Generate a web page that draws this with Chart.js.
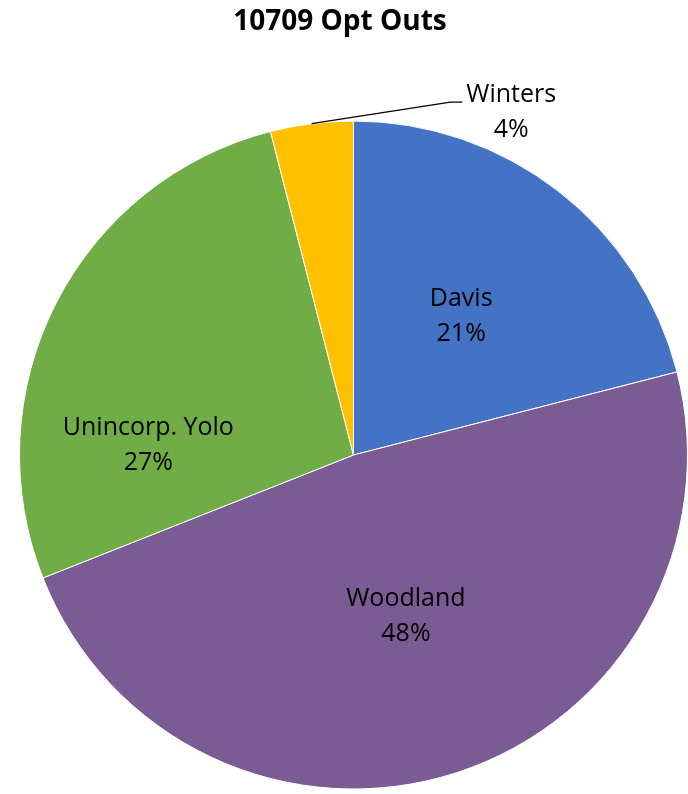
<!DOCTYPE html>
<html lang="en">
<head>
  <meta charset="UTF-8">
  <title>10709 Opt Outs</title>
  <script src="https://cdn.jsdelivr.net/npm/chart.js"></script>
  <style>
    body { margin: 0; background: #fff; }
    canvas { display: block; }
  </style>
</head>
<body>
  <canvas id="optChart" width="688" height="794"></canvas>

  <script>
    const title = "10709 Opt Outs";
    const cities = ["Davis", "Woodland", "Unincorp. Yolo", "Winters"];
    const shares = [21, 48, 27, 4];
    const colors = ["#4472C4", "#7A5B93", "#70AD47", "#FFC000"];

    // where each label sits: fraction of radius, optional angle (deg from top)
    const placement = [
      { r: 0.526 },
      { r: 0.508 },
      { r: 0.615, angle: 272.8 },
      { r: 1.13, angle: 24.7, leader: true }
    ];

    const FONT = "'Open Sans', sans-serif";

    const labelPlugin = {
      id: "labels",
      afterDraw(chart) {
        const ctx = chart.ctx;
        ctx.save();
        ctx.fillStyle = "#000";
        ctx.textAlign = "center";
        ctx.textBaseline = "middle";
        ctx.font = "bold 28px " + FONT;
        ctx.fillText(title, 340, 22);

        const total = shares.reduce((a, b) => a + b, 0);
        const arcs = chart.getDatasetMeta(0).data;
        ctx.font = "25px " + FONT;
        arcs.forEach((arc, i) => {
          const p = placement[i];
          const mid = (arc.startAngle + arc.endAngle) / 2;
          const ang = p.angle !== undefined ? p.angle * Math.PI / 180 - Math.PI / 2 : mid;
          const x = arc.x + Math.cos(ang) * arc.outerRadius * p.r;
          const y = arc.y + Math.sin(ang) * arc.outerRadius * p.r;
          const pct = Math.round(shares[i] / total * 100) + "%";
          ctx.fillText(cities[i], x, y - 17);
          ctx.fillText(pct, x, y + 18);
          if (p.leader) {
            const w = ctx.measureText(cities[i]).width;
            const sx = arc.x + Math.cos(mid) * arc.outerRadius;
            const sy = arc.y + Math.sin(mid) * arc.outerRadius;
            const ex = x - w / 2 - 4;
            const ey = y - 10;
            ctx.strokeStyle = "#000";
            ctx.lineWidth = 1.3;
            ctx.beginPath();
            ctx.moveTo(sx, sy);
            ctx.lineTo(ex - 12, ey);
            ctx.lineTo(ex, ey);
            ctx.stroke();
          }
        });
        ctx.restore();
      }
    };

    new Chart(document.getElementById("optChart").getContext("2d"), {
      type: "pie",
      data: {
        labels: cities,
        datasets: [{
          data: shares,
          backgroundColor: colors,
          borderColor: "#fff",
          borderWidth: 1
        }]
      },
      options: {
        responsive: false,
        animation: false,
        layout: { padding: { left: 19, right: 0, top: 120, bottom: 4 } },
        plugins: {
          legend: { display: false },
          title: { display: false },
          tooltip: { enabled: false }
        }
      },
      plugins: [labelPlugin]
    });
  </script>
</body>
</html>
